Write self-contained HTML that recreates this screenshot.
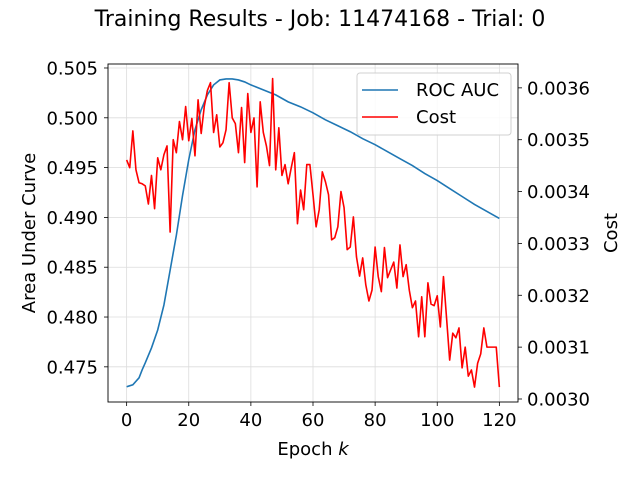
<!DOCTYPE html>
<html><head><meta charset="utf-8"><style>
body{margin:0;background:#fff;}
svg{display:block;font-family:"DejaVu Sans","Liberation Sans",sans-serif;}
</style></head><body>
<svg id="chart" width="640" height="480"></svg>
<script>
const aucEpochs=[0,2,4,5,6,8,10,12,14,16,18,20,22,24,26,28,30,32,34,36,38,40,44,48,52,56,60,64,68,72,76,80,84,88,92,96,100,104,108,112,116,120];
const aucValues=[0.4730,0.4732,0.4739,0.4747,0.4754,0.4769,0.4787,0.4812,0.4847,0.4882,0.4922,0.4958,0.4988,0.5008,0.5023,0.5033,0.5038,0.5039,0.5039,0.5038,0.5036,0.5033,0.5028,0.5023,0.5016,0.5011,0.5005,0.4998,0.4992,0.4986,0.4979,0.4973,0.4966,0.4959,0.4952,0.4944,0.4937,0.4929,0.4921,0.4913,0.4906,0.4899];
const costValues=[3.461,3.446,3.517,3.442,3.417,3.415,3.411,3.376,3.431,3.367,3.465,3.442,3.471,3.488,3.322,3.500,3.475,3.535,3.500,3.564,3.498,3.541,3.469,3.577,3.512,3.564,3.595,3.610,3.514,3.548,3.486,3.494,3.519,3.610,3.542,3.531,3.475,3.562,3.456,3.589,3.514,3.542,3.409,3.573,3.514,3.488,3.450,3.618,3.442,3.523,3.431,3.452,3.415,3.446,3.475,3.338,3.403,3.365,3.452,3.452,3.394,3.332,3.365,3.438,3.419,3.394,3.307,3.311,3.332,3.400,3.369,3.288,3.293,3.351,3.274,3.237,3.272,3.220,3.189,3.210,3.293,3.236,3.207,3.292,3.234,3.249,3.264,3.214,3.297,3.236,3.259,3.210,3.176,3.189,3.120,3.197,3.120,3.224,3.183,3.180,3.199,3.139,3.236,3.156,3.075,3.127,3.118,3.137,3.060,3.100,3.044,3.056,3.023,3.069,3.087,3.137,3.100,3.100,3.100,3.100,3.023];
const xTicks=[0,20,40,60,80,100,120];
const yLeftTicks=[0.475,0.480,0.485,0.490,0.495,0.500,0.505];
const yRightTicks=[0.0030,0.0031,0.0032,0.0033,0.0034,0.0035,0.0036];

const L=108,R=518,T=64,B=402;
const xs=v=>L+(v-(-6))/(126-(-6))*(R-L);
const yl=v=>B-(v-0.47147)/(0.50540-0.47147)*(B-T);
const yr=v=>B-(v-0.0029942)/(0.003646-0.0029942)*(B-T);
const svg=document.getElementById('chart');
const NS='http://www.w3.org/2000/svg';
function mk(tag,attrs,parent){const e=document.createElementNS(NS,tag);for(const k in attrs)e.setAttribute(k,attrs[k]);(parent||svg).appendChild(e);return e;}
function txt(s,attrs){const e=mk('text',attrs);e.textContent=s;return e;}

let t=txt('Training Results - Job: 11474168 - Trial: 0',{x:320,y:26,'font-size':22,'text-anchor':'middle',fill:'#000'});



const grid=mk('g',{});


xTicks.forEach(v=>{mk('line',{x1:xs(v),x2:xs(v),y1:T,y2:B,stroke:'#dcdcdc','stroke-width':0.8},grid);});
yLeftTicks.forEach(v=>{mk('line',{x1:L,x2:R,y1:yl(v),y2:yl(v),stroke:'#dcdcdc','stroke-width':0.8},grid);});

xTicks.forEach(v=>{
 mk('line',{x1:xs(v),x2:xs(v),y1:B,y2:B+4,stroke:'#000','stroke-width':0.8});
 const e=txt(String(v),{x:xs(v),y:B+24,'font-size':18,'text-anchor':'middle'});
 
 
});
yLeftTicks.forEach(v=>{
 mk('line',{x1:L-4,x2:L,y1:yl(v),y2:yl(v),stroke:'#000','stroke-width':0.8});
 const e=txt(v.toFixed(3),{x:L-10,y:yl(v)+6.5,'font-size':18,'text-anchor':'end'});
 
 
});
yRightTicks.forEach(v=>{
 mk('line',{x1:R,x2:R+4,y1:yr(v),y2:yr(v),stroke:'#000','stroke-width':0.8});
 const e=txt(v.toFixed(4),{x:R+9,y:yr(v)+6.5,'font-size':18,'text-anchor':'start'});
 
 
});

let xl=mk('text',{x:313,y:455,'font-size':18,'text-anchor':'middle'});
xl.innerHTML='Epoch <tspan font-style="italic">k</tspan>';


let ylt=txt('Area Under Curve',{x:0,y:0,'font-size':18,'text-anchor':'middle',transform:'translate(35,233) rotate(-90)'});


let yrt=txt('Cost',{x:0,y:0,'font-size':18,'text-anchor':'middle',transform:'translate(617,233) rotate(-90)'});



let p1=mk('polyline',{points:aucEpochs.map((e,i)=>xs(e)+','+yl(aucValues[i])).join(' '),fill:'none',stroke:'#1f77b4','stroke-width':1.6});


let p2=mk('polyline',{points:costValues.map((v,i)=>xs(i)+','+yr(v/1000)).join(' '),fill:'none',stroke:'#ff0000','stroke-width':1.6,'stroke-linejoin':'round'});



let fr=mk('rect',{x:L,y:T,width:R-L,height:B-T,fill:'none',stroke:'#000','stroke-width':0.9});



const lg=mk('g',{});


mk('rect',{x:357,y:73,width:154,height:62,rx:3,fill:'#fff','fill-opacity':0.85,stroke:'#d0d0d0'},lg);
mk('line',{x1:362,x2:398,y1:90,y2:90,stroke:'#1f77b4','stroke-width':1.6},lg);
let l1=mk('text',{x:416,y:96,'font-size':18},lg);l1.textContent='ROC AUC';


mk('line',{x1:362,x2:398,y1:117,y2:117,stroke:'#ff0000','stroke-width':1.6},lg);
let l2=mk('text',{x:416,y:123,'font-size':18},lg);l2.textContent='Cost';


</script>
</body></html>
